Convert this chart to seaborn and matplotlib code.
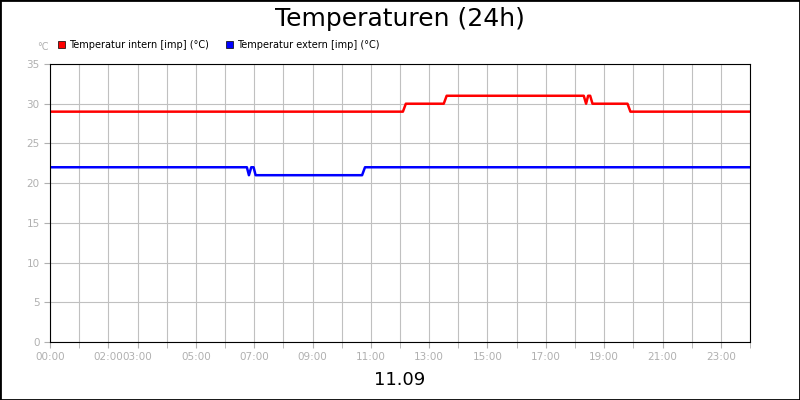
import numpy as np
import pandas as pd
import matplotlib
matplotlib.use("Agg")
import matplotlib.pyplot as plt
import seaborn as sns

# hours since midnight, values in degC
t_intern = [0, 12.1, 12.2, 13.5, 13.6, 18.3, 18.38, 18.45, 18.52, 18.6, 19.8, 19.9, 24]
v_intern = [29, 29, 30, 30, 31, 31, 30, 31, 31, 30, 30, 29, 29]
t_extern = [0, 6.75, 6.82, 6.9, 6.98, 7.05, 10.7, 10.8, 24]
v_extern = [22, 22, 21, 22, 22, 21, 21, 22, 22]
tick_hours = [0, 2, 3, 5, 7, 9, 11, 13, 15, 17, 19, 21, 23]
tick_labels = ["00:00", "02:00", "03:00", "05:00", "07:00", "09:00", "11:00",
               "13:00", "15:00", "17:00", "19:00", "21:00", "23:00"]

df = pd.concat([
    pd.DataFrame({"h": t_intern, "v": v_intern, "s": "Temperatur intern [imp] (°C)"}),
    pd.DataFrame({"h": t_extern, "v": v_extern, "s": "Temperatur extern [imp] (°C)"}),
])

fig = plt.figure(figsize=(8, 4), dpi=100)
fig.patches.append(plt.Rectangle((0, 0), 1, 1, transform=fig.transFigure,
                                 fill=False, edgecolor="black", lw=2))
ax = fig.add_axes([50 / 800, 58 / 400, 700 / 800, 278 / 400])
sns.lineplot(data=df, x="h", y="v", hue="s", palette=["#ff0000", "#0000ff"],
             lw=1.8, ax=ax, legend=False, estimator=None, sort=False)

ax.set_xlim(0, 24)
ax.set_ylim(0, 35)
ax.set_xticks(range(25), minor=True)
ax.set_xticks(tick_hours)
ax.set_xticklabels(tick_labels)
ax.set_yticks(range(0, 36, 5))
ax.grid(True, which="both", color="#c0c0c0", lw=0.8)
ax.set_axisbelow(True)
ax.tick_params(colors="#b0b0b0", labelsize=7.5, length=4, which="both")
for sp in ax.spines.values():
    sp.set_color("black")
ax.set_xlabel("")
ax.set_ylabel("")

fig.text(0.5, 0.953, "Temperaturen (24h)", ha="center", va="center", fontsize=18)
fig.text(0.5, 0.05, "11.09", ha="center", va="center", fontsize=13)
fig.text(37 / 800, 1 - 47 / 400, "°C", fontsize=7, color="#b0b0b0", ha="left", va="center")
for x, c, lab in [(58, "#ff0000", "Temperatur intern [imp] (°C)"),
                  (226, "#0000ff", "Temperatur extern [imp] (°C)")]:
    fig.patches.append(plt.Rectangle((x / 800, 1 - 48 / 400), 7 / 800, 7 / 400,
                                     transform=fig.transFigure, facecolor=c,
                                     edgecolor="black", lw=0.5))
    fig.text((x + 11) / 800, 1 - 44.5 / 400, lab, fontsize=7, va="center")

fig.savefig("out.png", dpi=100)
